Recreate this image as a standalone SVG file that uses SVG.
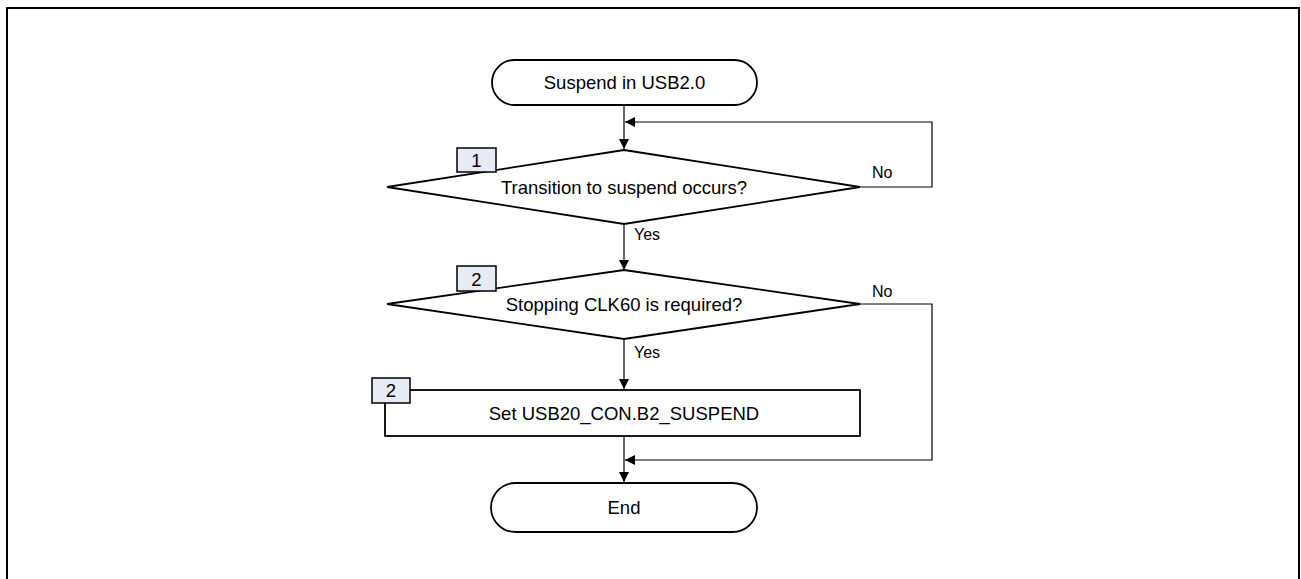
<svg xmlns="http://www.w3.org/2000/svg" width="1301" height="579" viewBox="0 0 1301 579">
<defs>
<marker id="ah" viewBox="0 0 10 10" refX="10" refY="5" markerWidth="10" markerHeight="10" markerUnits="userSpaceOnUse" orient="auto">
<path d="M0,0 L10,5 L0,10 z" fill="#000"/>
</marker>
<style>
.shape{fill:#fff;stroke:#000;stroke-width:1.8}
.badge{fill:#e6ebf5;stroke:#000;stroke-width:1.5}
.conn{fill:none;stroke:#000;stroke-width:1.2}
text{font-family:"Liberation Sans",Arial,sans-serif;font-size:18.5px;fill:#000}
.c{text-anchor:middle}
.s{font-size:16px}
</style>
</defs>
<rect width="1301" height="579" fill="#fff"/>
<path d="M7,579 V8 H1299 V579" fill="none" stroke="#000" stroke-width="2"/>
<g id="connectors">
<path class="conn" d="M624,106 V149" marker-end="url(#ah)"/>
<path class="conn" d="M860,187 H932 V122 H625" marker-end="url(#ah)"/>
<path class="conn" d="M624,224 V270" marker-end="url(#ah)"/>
<path class="conn" d="M624,339 V389" marker-end="url(#ah)"/>
<path class="conn" d="M860,304 H932 V460 H625" marker-end="url(#ah)"/>
<path class="conn" d="M624,437 V482" marker-end="url(#ah)"/>
<text x="872" y="178" class="s">No</text>
<text x="634" y="240" class="s">Yes</text>
<text x="872" y="297" class="s">No</text>
<text x="634" y="358" class="s">Yes</text>
</g>
<g id="start">
<rect class="shape" x="492" y="60" width="265" height="45" rx="22.5"/>
<text x="624.5" y="89" class="c">Suspend in USB2.0</text>
</g>
<g id="decision1">
<polygon class="shape" points="624,150 860,187 624,224 387,187"/>
<rect class="badge" x="457" y="148" width="39" height="24"/>
<text x="476.5" y="167" class="c">1</text>
<text x="624" y="194" class="c">Transition to suspend occurs?</text>
</g>
<g id="decision2">
<polygon class="shape" points="624,270 860,304 624,339 387,304"/>
<rect class="badge" x="457" y="266" width="39" height="25"/>
<text x="476.5" y="286" class="c">2</text>
<text x="624" y="311" class="c">Stopping CLK60 is required?</text>
</g>
<g id="process">
<rect class="shape" x="385" y="390" width="475" height="46"/>
<rect class="badge" x="372" y="378" width="38" height="25"/>
<text x="391" y="397" class="c">2</text>
<text x="624" y="420" class="c">Set USB20_CON.B2_SUSPEND</text>
</g>
<g id="end">
<rect class="shape" x="491" y="483" width="266" height="49" rx="24.5"/>
<text x="624" y="514" class="c">End</text>
</g>
</svg>
